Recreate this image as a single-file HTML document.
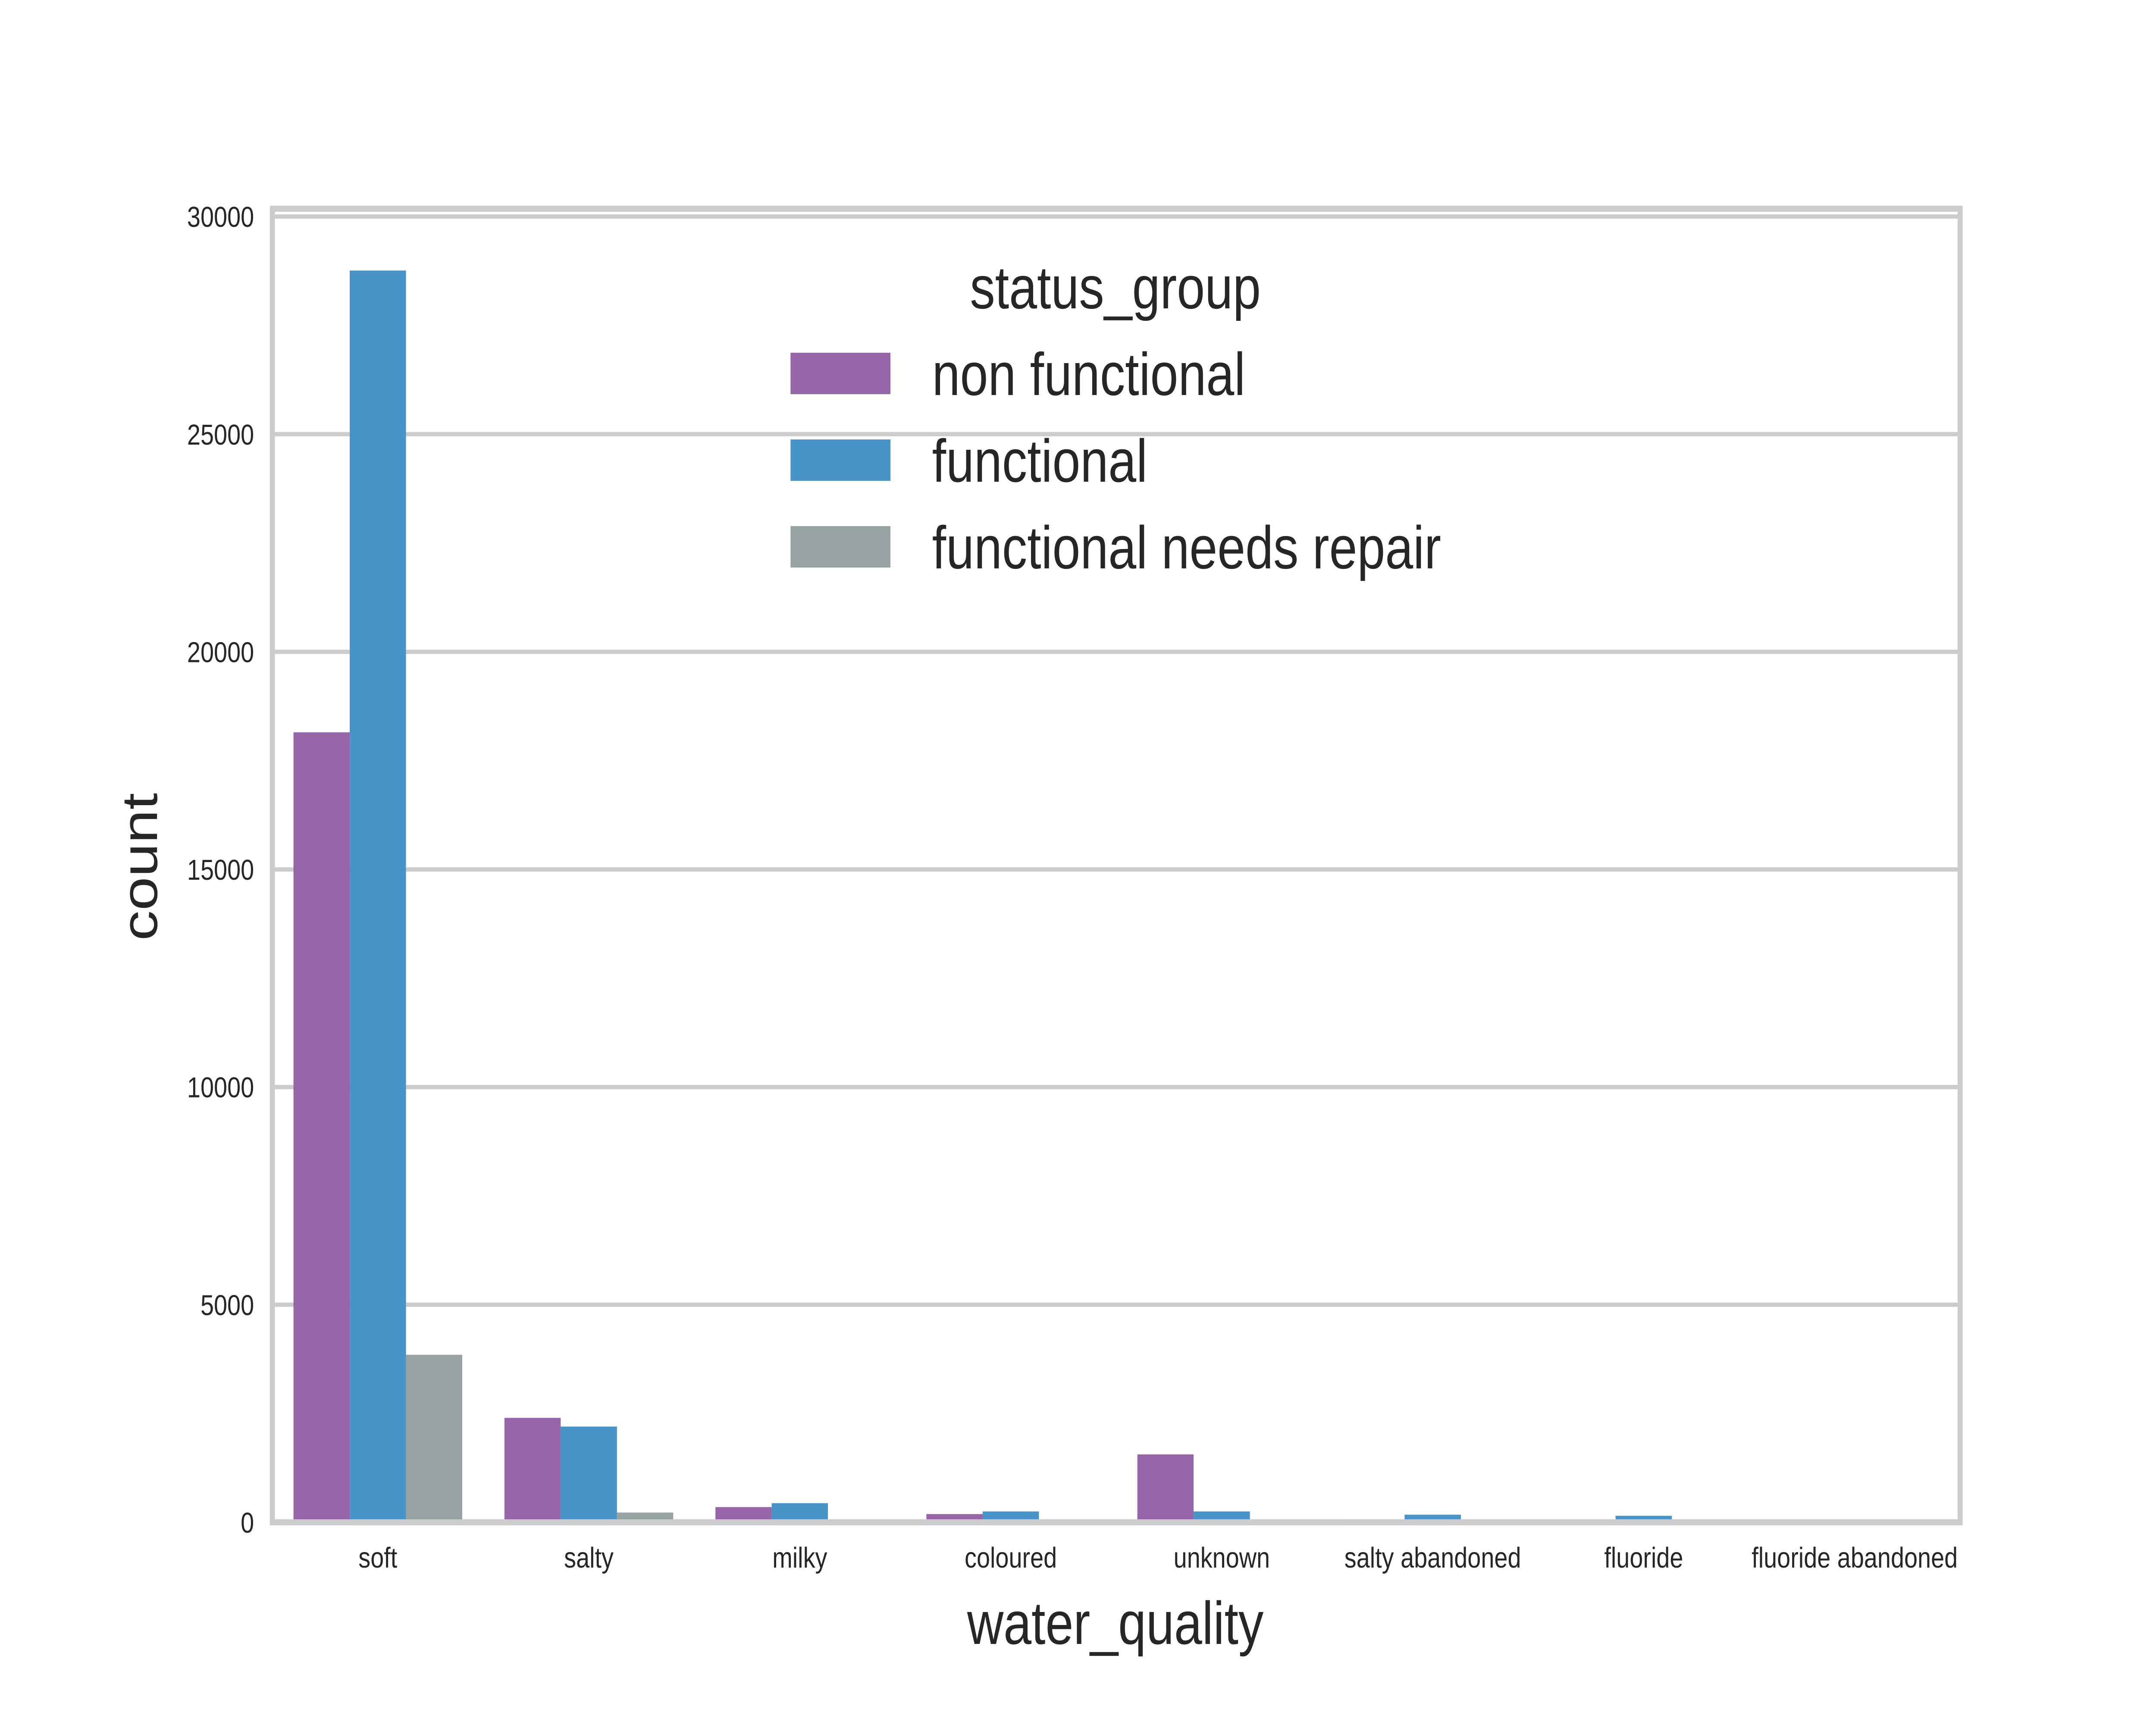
<!DOCTYPE html>
<html><head><meta charset="utf-8"><style>
html,body{margin:0;padding:0;background:#fff;overflow:hidden;width:100%;height:100%;}
svg{display:block;font-family:"Liberation Sans",Arial,sans-serif;width:100vw;height:100vh;}
</style></head><body>
<svg id="chart" viewBox="0 0 6000 4000" preserveAspectRatio="none" xmlns="http://www.w3.org/2000/svg">
<rect x="0" y="0" width="6000" height="4000" fill="#fff"/>
<g id="grid"></g>
<g id="bars"></g>
<g id="spines"></g>
<g id="ticks"></g>
<text transform="translate(437,2010) rotate(-90)" text-anchor="middle" font-size="140" fill="#262626">count</text>
<text x="3104" y="3812" text-anchor="middle" font-size="140" fill="#262626">water_quality</text>
<g id="legend"></g>
</svg>
<script>
const categories = ["soft","salty","milky","coloured","unknown","salty abandoned","fluoride","fluoride abandoned"];
const seriesNames = ["non functional","functional","functional needs repair"];
const nonFunctional = [18150, 2400, 350, 190, 1560, 70, 12, 5];
const functional = [28760, 2200, 440, 250, 250, 175, 150, 12];
const needsRepair = [3850, 225, 14, 54, 35, 14, 15, 0];
const yTicks = [0, 5000, 10000, 15000, 20000, 25000, 30000];
const colors = ["#9866a8","#4994c6","#99a3a4"];

const NS = "http://www.w3.org/2000/svg";
const L = 758, R = 5455, B = 3530, T = 484;
const yMax = 30180;
function yS(v){ return B - (v / yMax) * (B - T); }
const step = (R - L) / categories.length;
function xC(i){ return L + step * (i + 0.5); }
const barW = step * 0.8 / 3;
function mk(tag, attrs, parent){ const e = document.createElementNS(NS, tag); for (const k in attrs) e.setAttribute(k, attrs[k]); parent.appendChild(e); return e; }

const grid = document.getElementById('grid');
const ticks = document.getElementById('ticks');
yTicks.forEach(v => {
  const ln = mk('line', {x1: L, x2: R, y1: yS(v), y2: yS(v), stroke: '#cccccc', 'stroke-width': 10}, grid);
  
  
  const t = mk('text', {x: 707, y: yS(v) + 24, 'text-anchor': 'end', 'font-size': 67, fill: '#262626'}, ticks);
  t.textContent = String(v);
  
  
});
categories.forEach((c, i) => {
  const t = mk('text', {x: xC(i), y: 3635, 'text-anchor': 'middle', 'font-size': 67, fill: '#262626'}, ticks);
  t.textContent = c;
  
  
});

const bars = document.getElementById('bars');
const allSeries = [nonFunctional, functional, needsRepair];
allSeries.forEach((s, si) => {
  s.forEach((v, i) => {
    const x = xC(i) - 1.5 * barW + si * barW;
    const r = mk('rect', {x: x, y: yS(v), width: barW, height: B - yS(v), fill: colors[si]}, bars);
    
    
  });
});

const sp = document.getElementById('spines');
const frame = mk('rect', {x: L, y: T, width: R - L, height: B - T, fill: 'none', stroke: '#cccccc', 'stroke-width': 14}, sp);



const lg = document.getElementById('legend');
const lt = mk('text', {x: 3104, y: 715, 'text-anchor': 'middle', 'font-size': 140, fill: '#262626'}, lg);
lt.textContent = 'status_group';


const entryY = [866, 1067, 1268];
seriesNames.forEach((n, i) => {
  const p = mk('rect', {x: 2200, y: entryY[i] - 48, width: 278, height: 96, fill: colors[i]}, lg);
  
  
  const t = mk('text', {x: 2594, y: entryY[i] + 50, 'font-size': 140, fill: '#262626'}, lg);
  t.textContent = n;
  
  
});
</script>
</body></html>
